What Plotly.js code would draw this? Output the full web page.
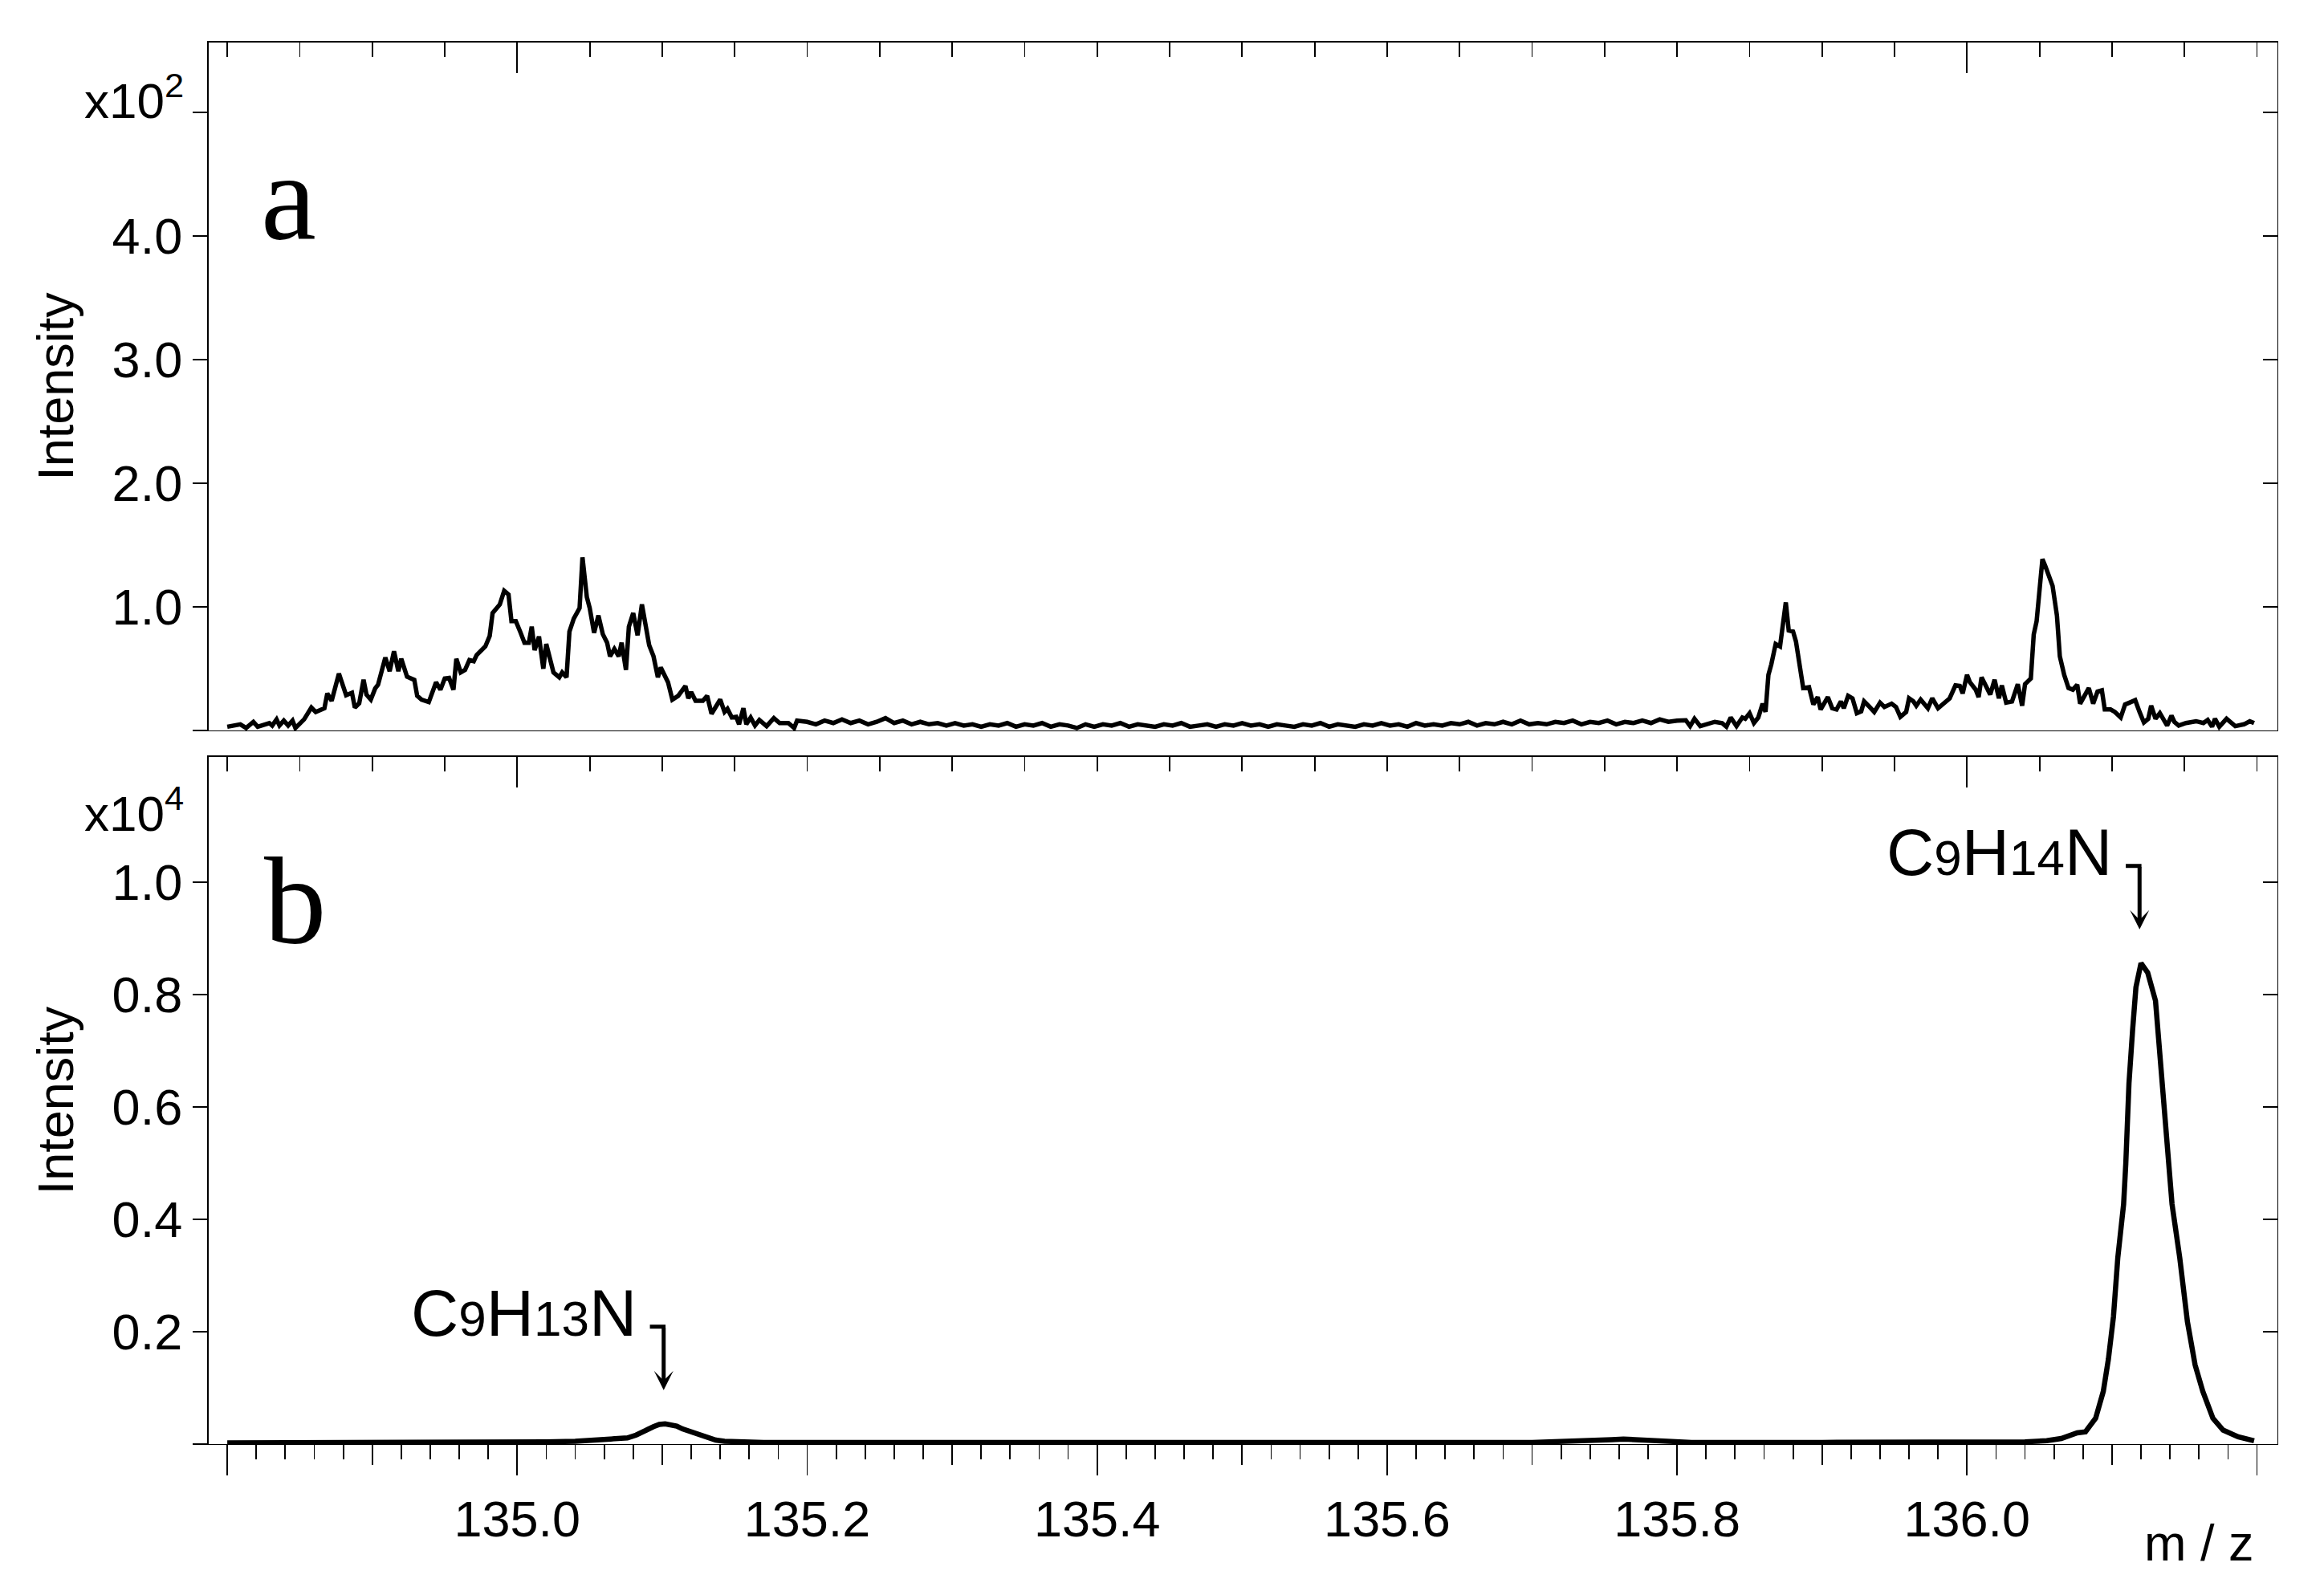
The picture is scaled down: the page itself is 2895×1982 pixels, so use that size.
<!DOCTYPE html>
<html><head><meta charset="utf-8">
<script src="https://cdn.plot.ly/plotly-3.0.1.min.js"></script>
<style>html,body{margin:0;padding:0;background:#fff}#chart{width:2895px;height:1982px}</style>
</head><body><div id="chart"></div>
<script>
// Panel a: m/z and intensity (x10^2)
const mzA = [134.800,134.809,134.813,134.818,134.821,134.829,134.831,134.834,134.836,134.839,134.842,134.845,134.847,134.853,134.858,134.861,134.867,134.869,134.872,134.877,134.882,134.886,134.888,134.891,134.894,134.896,134.899,134.902,134.904,134.909,134.912,134.915,134.918,134.920,134.924,134.929,134.931,134.934,134.939,134.944,134.947,134.950,134.953,134.956,134.958,134.961,134.964,134.967,134.970,134.972,134.978,134.981,134.983,134.985,134.988,134.991,134.994,134.996,134.999,135.002,135.005,135.008,135.010,135.012,135.015,135.018,135.020,135.025,135.029,135.031,135.034,135.036,135.039,135.043,135.045,135.048,135.050,135.053,135.056,135.059,135.062,135.064,135.067,135.070,135.072,135.075,135.077,135.080,135.083,135.086,135.088,135.091,135.094,135.097,135.099,135.104,135.107,135.111,135.116,135.118,135.120,135.123,135.128,135.131,135.134,135.140,135.143,135.145,135.148,135.151,135.153,135.156,135.158,135.161,135.164,135.167,135.172,135.177,135.181,135.187,135.191,135.193,
135.200,135.206,135.212,135.218,135.224,135.230,135.236,135.242,135.248,135.254,135.260,135.266,135.272,135.278,135.284,135.290,135.296,135.302,135.308,135.314,135.320,135.326,135.332,135.338,135.344,135.350,135.356,135.362,135.368,135.374,135.380,135.386,135.392,135.398,135.404,135.410,135.416,135.422,135.428,135.434,135.440,135.446,135.452,135.458,135.464,135.470,135.476,135.482,135.488,135.494,135.500,135.506,135.512,135.518,135.524,135.530,135.536,135.542,135.548,135.554,135.560,135.566,135.572,135.578,135.584,135.590,135.596,135.602,135.608,135.614,135.620,135.626,135.632,135.638,135.644,135.650,135.656,135.662,135.668,135.674,135.680,135.686,135.692,135.698,135.704,135.710,135.716,135.722,135.728,135.734,135.740,135.746,135.752,135.758,135.764,135.770,135.776,135.782,135.788,135.794,135.800,
135.806,135.809,135.812,135.816,135.821,135.826,135.831,135.834,135.837,135.841,135.845,135.847,135.850,135.853,135.856,135.859,135.861,135.863,135.865,135.868,135.871,135.873,135.875,135.877,135.880,135.882,135.885,135.887,135.891,135.894,135.897,135.899,135.904,135.907,135.910,135.913,135.915,135.918,135.921,135.924,135.927,135.929,135.932,135.936,135.940,135.943,135.948,135.951,135.954,135.958,135.960,135.963,135.965,135.968,135.973,135.976,135.980,135.984,135.988,135.992,135.995,135.997,136.000,136.002,136.006,136.008,136.010,136.013,136.016,136.019,136.022,136.024,136.027,136.031,136.033,136.035,136.038,136.040,136.044,136.046,136.048,136.050,136.052,136.054,136.057,136.059,136.062,136.064,136.067,136.070,136.073,136.076,136.078,136.081,136.084,136.087,136.090,136.093,136.095,136.099,136.102,136.106,136.109,136.112,136.116,136.119,136.122,136.125,136.127,136.130,136.133,136.138,136.141,136.143,136.146,136.151,136.158,136.163,136.166,136.169,136.171,136.174,136.179,136.185,136.191,136.195,136.198];
const intA = [0.03,0.05,0.02,0.07,0.03,0.06,0.04,0.09,0.04,0.08,0.04,0.08,0.02,0.09,0.185,0.15,0.18,0.30,0.24,0.46,0.285,0.305,0.185,0.22,0.41,0.29,0.25,0.34,0.37,0.59,0.48,0.64,0.48,0.58,0.435,0.41,0.28,0.25,0.23,0.39,0.33,0.42,0.425,0.33,0.58,0.47,0.49,0.57,0.56,0.61,0.68,0.765,0.95,0.98,1.02,1.13,1.10,0.885,0.885,0.80,0.71,0.71,0.84,0.65,0.76,0.50,0.70,0.47,0.43,0.47,0.43,0.80,0.905,0.99,1.40,1.08,0.99,0.79,0.93,0.78,0.71,0.60,0.66,0.60,0.71,0.49,0.84,0.95,0.77,1.02,0.905,0.69,0.60,0.43,0.51,0.39,0.25,0.28,0.36,0.26,0.31,0.24,0.24,0.28,0.135,0.25,0.15,0.175,0.105,0.11,0.05,0.18,0.05,0.105,0.04,0.085,0.035,0.10,0.06,0.06,0.02,0.08,
0.07,0.05,0.08,0.06,0.09,0.06,0.08,0.05,0.07,0.10,0.06,0.08,0.05,0.07,0.05,0.06,0.04,0.06,0.04,0.05,0.03,0.05,0.04,0.06,0.03,0.05,0.04,0.06,0.03,0.05,0.04,0.02,0.05,0.03,0.05,0.04,0.06,0.03,0.05,0.04,0.03,0.05,0.04,0.06,0.03,0.04,0.05,0.03,0.05,0.04,0.06,0.04,0.05,0.03,0.05,0.04,0.03,0.05,0.04,0.06,0.03,0.05,0.04,0.03,0.05,0.04,0.06,0.04,0.05,0.03,0.06,0.04,0.05,0.04,0.06,0.05,0.07,0.04,0.06,0.05,0.07,0.05,0.08,0.05,0.06,0.05,0.07,0.06,0.08,0.05,0.07,0.06,0.08,0.05,0.07,0.06,0.08,0.06,0.09,0.07,0.08,
0.083,0.035,0.095,0.035,0.05,0.07,0.06,0.03,0.105,0.035,0.105,0.095,0.14,0.06,0.105,0.217,0.15,0.45,0.535,0.70,0.68,0.84,1.036,0.81,0.80,0.72,0.50,0.343,0.35,0.21,0.27,0.17,0.27,0.18,0.17,0.235,0.18,0.28,0.26,0.14,0.155,0.235,0.20,0.15,0.225,0.19,0.217,0.19,0.11,0.15,0.26,0.235,0.20,0.25,0.18,0.26,0.18,0.225,0.26,0.365,0.36,0.30,0.45,0.39,0.33,0.27,0.43,0.36,0.29,0.41,0.26,0.365,0.225,0.235,0.30,0.375,0.20,0.375,0.42,0.776,0.885,1.10,1.386,1.33,1.22,1.17,0.93,0.60,0.45,0.343,0.33,0.37,0.217,0.28,0.343,0.217,0.315,0.325,0.17,0.17,0.15,0.105,0.21,0.225,0.245,0.15,0.065,0.095,0.20,0.095,0.14,0.04,0.12,0.07,0.04,0.06,0.075,0.06,0.085,0.03,0.095,0.03,0.095,0.035,0.05,0.075,0.06];

// Panel b: m/z and intensity (x10^4)
const mzB = [134.800,134.850,134.900,134.950,134.980,135.000,135.020,135.040,135.058,135.070,135.076,135.082,135.086,135.090,135.094,135.098,135.102,135.106,135.110,135.114,135.119,135.124,135.128,135.133,135.137,135.143,135.150,135.170,135.200,135.300,135.400,135.500,135.600,135.700,135.720,135.740,135.755,135.763,135.775,135.790,135.810,135.900,136.000,136.040,136.055,136.065,136.076,136.0817,136.0887,136.094,136.0975,136.101,136.104,136.108,136.1095,136.1117,136.1142,136.1165,136.120,136.1246,136.130,136.1325,136.1357,136.1387,136.1414,136.1467,136.152,136.1573,136.1626,136.1696,136.1766,136.187,136.198];
const intB = [0.002,0.002,0.002,0.002,0.0025,0.003,0.004,0.005,0.007,0.009,0.011,0.016,0.020,0.026,0.031,0.035,0.036,0.034,0.032,0.027,0.023,0.018,0.014,0.010,0.007,0.005,0.004,0.003,0.003,0.0025,0.0025,0.0025,0.003,0.003,0.004,0.006,0.008,0.009,0.008,0.005,0.003,0.003,0.003,0.004,0.006,0.010,0.020,0.022,0.046,0.094,0.151,0.227,0.332,0.427,0.499,0.642,0.737,0.813,0.856,0.839,0.789,0.713,0.594,0.499,0.427,0.332,0.218,0.141,0.094,0.046,0.025,0.013,0.006];

const yTicksA = [0,1,2,3,4,5];
const yTickTextA = ['','1.0','2.0','3.0','4.0',''];
const yTicksB = [0,0.2,0.4,0.6,0.8,1.0];
const yTickTextB = ['','0.2','0.4','0.6','0.8','1.0'];
const xMajor = [134.8,135.0,135.2,135.4,135.6,135.8,136.0,136.2];
const xMajorText = ['','135.0','135.2','135.4','135.6','135.8','136.0',''];
const xMid = [134.9,135.1,135.3,135.5,135.7,135.9,136.1];
const xTop = [135.0,136.0];
const peakLabels = ['C<span style="font-size:62px">9</span>H<span style="font-size:62px">13</span>N',
                    'C<span style="font-size:62px">9</span>H<span style="font-size:62px">14</span>N'];
const peakMz = [135.101, 136.119];
const peakInt = [0.036, 0.856];

const FONT = 'Liberation Sans, Arial, sans-serif';
const XR = [134.7872, 136.2141];
const YRA = [0, 5.565];
const YRB = [0, 1.2229];
const blk = '#000';

const traces = [
  {x: mzA, y: intA, xaxis:'x', yaxis:'y', type:'scatter', mode:'lines', line:{color:blk, width:5.5}, hoverinfo:'skip'},
  {x: mzB, y: intB, xaxis:'x2', yaxis:'y2', type:'scatter', mode:'lines', line:{color:blk, width:6.5}, hoverinfo:'skip'},
  {x: [], y: [], xaxis:'x3', yaxis:'y', type:'scatter', hoverinfo:'skip'},
  {x: [], y: [], xaxis:'x', yaxis:'y3', type:'scatter', hoverinfo:'skip'},
  {x: [], y: [], xaxis:'x4', yaxis:'y2', type:'scatter', hoverinfo:'skip'},
  {x: [], y: [], xaxis:'x5', yaxis:'y2', type:'scatter', hoverinfo:'skip'},
  {x: [], y: [], xaxis:'x2', yaxis:'y4', type:'scatter', hoverinfo:'skip'}
];

const base = {showgrid:false, zeroline:false, linecolor:blk, tickcolor:blk, tickwidth:1.8, tickfont:{family:FONT, size:63, color:blk}, fixedrange:true};
const domA = [0.50916, 1];
const domB = [0, 0.49026];

const annotations = [
  {text:'a', xref:'paper', yref:'paper', x:0.0244, y:0.8399, xanchor:'left', yanchor:'bottom', showarrow:false, font:{family:'Liberation Serif, Times New Roman, serif', size:155, color:blk}},
  {text:'b', xref:'paper', yref:'paper', x:0.026, y:0.3371, xanchor:'left', yanchor:'bottom', showarrow:false, font:{family:'Liberation Serif, Times New Roman, serif', size:155, color:blk}},
  {text:'x10<sup>2</sup>', xref:'paper', yref:'paper', x:-0.01125, y:0.9373, xanchor:'right', yanchor:'bottom', showarrow:false, font:{family:FONT, size:62, color:blk}},
  {text:'x10<sup>4</sup>', xref:'paper', yref:'paper', x:-0.01125, y:0.4287, xanchor:'right', yanchor:'bottom', showarrow:false, font:{family:FONT, size:62, color:blk}},
  {text:'m / z', xref:'paper', yref:'paper', x:0.9895, y:-0.0919, xanchor:'right', yanchor:'bottom', showarrow:false, font:{family:FONT, size:63, color:blk}}
];
const shapes = [];
const tipGap = 0.06, hookLen = 0.113, hookW = 0.0095, textGap = 0.0083;
peakLabels.forEach((lab, i) => {
  const tip = peakInt[i] + tipGap;
  const hookY = tip + hookLen;
  annotations.push({text:'', x:peakMz[i], y:tip, xref:'x2', yref:'y2', ax:peakMz[i], ay:hookY, axref:'x2', ayref:'y2', showarrow:true, arrowhead:3, arrowsize:0.8, arrowwidth:5, arrowcolor:blk, standoff:0, startstandoff:0});
  shapes.push({type:'line', xref:'x2', yref:'y2', x0:peakMz[i]-hookW, x1:peakMz[i]+0.0013, y0:hookY, y1:hookY, line:{color:blk, width:5}});
  annotations.push({text:lab, x:peakMz[i]-hookW-textGap, y:hookY, xref:'x2', yref:'y2', xanchor:'right', yanchor:'bottom', yshift:-30, showarrow:false, font:{family:FONT, size:82, color:blk}});
});

const layout = {
  width:2895, height:1982,
  margin:{l:260, r:58, t:53, b:183, pad:0},
  paper_bgcolor:'#fff', plot_bgcolor:'#fff',
  showlegend:false,
  font:{family:FONT, color:blk},
  xaxis: Object.assign({}, base, {domain:[0,1], anchor:'y', range:XR, showline:true, linewidth:1.2, ticks:'', showticklabels:false}),
  xaxis3: Object.assign({}, base, {overlaying:'x', anchor:'y', side:'top', range:XR, showline:true, linewidth:2.2, ticks:'inside', tickmode:'array', tickvals:xTop, ticklen:38, showticklabels:false,
    minor:{tickmode:'linear', tick0:134.8, dtick:0.05, ticks:'inside', ticklen:18, tickwidth:1.8, tickcolor:blk, showgrid:false}}),
  yaxis: Object.assign({}, base, {domain:domA, anchor:'x', range:YRA, showline:true, linewidth:2.2, ticks:'outside', ticklen:18, tickmode:'array', tickvals:yTicksA, ticktext:yTickTextA,
    title:{text:'Intensity', font:{family:FONT, size:63, color:blk}, standoff:28}}),
  yaxis3: Object.assign({}, base, {overlaying:'y', anchor:'x', side:'right', range:YRA, showline:true, linewidth:1.2, ticks:'inside', ticklen:18, tickmode:'array', tickvals:yTicksA.slice(1), showticklabels:false}),
  xaxis2: Object.assign({}, base, {domain:[0,1], anchor:'y2', range:XR, showline:true, linewidth:1.2, ticks:'outside', ticklen:38, tickmode:'array', tickvals:xMajor, ticktext:xMajorText,
    minor:{tickmode:'linear', tick0:134.8, dtick:0.02, ticks:'outside', ticklen:18, tickwidth:1.8, tickcolor:blk, showgrid:false}}),
  xaxis4: Object.assign({}, base, {overlaying:'x2', anchor:'y2', side:'top', range:XR, showline:true, linewidth:2.2, ticks:'inside', tickmode:'array', tickvals:xTop, ticklen:38, showticklabels:false,
    minor:{tickmode:'linear', tick0:134.8, dtick:0.05, ticks:'inside', ticklen:18, tickwidth:1.8, tickcolor:blk, showgrid:false}}),
  xaxis5: Object.assign({}, base, {overlaying:'x2', anchor:'y2', side:'bottom', range:XR, showline:false, ticks:'outside', ticklen:25, tickmode:'array', tickvals:xMid, showticklabels:false}),
  yaxis2: Object.assign({}, base, {domain:domB, anchor:'x2', range:YRB, showline:true, linewidth:2.2, ticks:'outside', ticklen:18, tickmode:'array', tickvals:yTicksB, ticktext:yTickTextB,
    title:{text:'Intensity', font:{family:FONT, size:63, color:blk}, standoff:28}}),
  yaxis4: Object.assign({}, base, {overlaying:'y2', anchor:'x2', side:'right', range:YRB, showline:true, linewidth:1.2, ticks:'inside', ticklen:18, tickmode:'array', tickvals:yTicksB.slice(1), showticklabels:false}),
  annotations: annotations,
  shapes: shapes
};

Plotly.newPlot('chart', traces, layout, {staticPlot:true, displayModeBar:false});
</script></body></html>
